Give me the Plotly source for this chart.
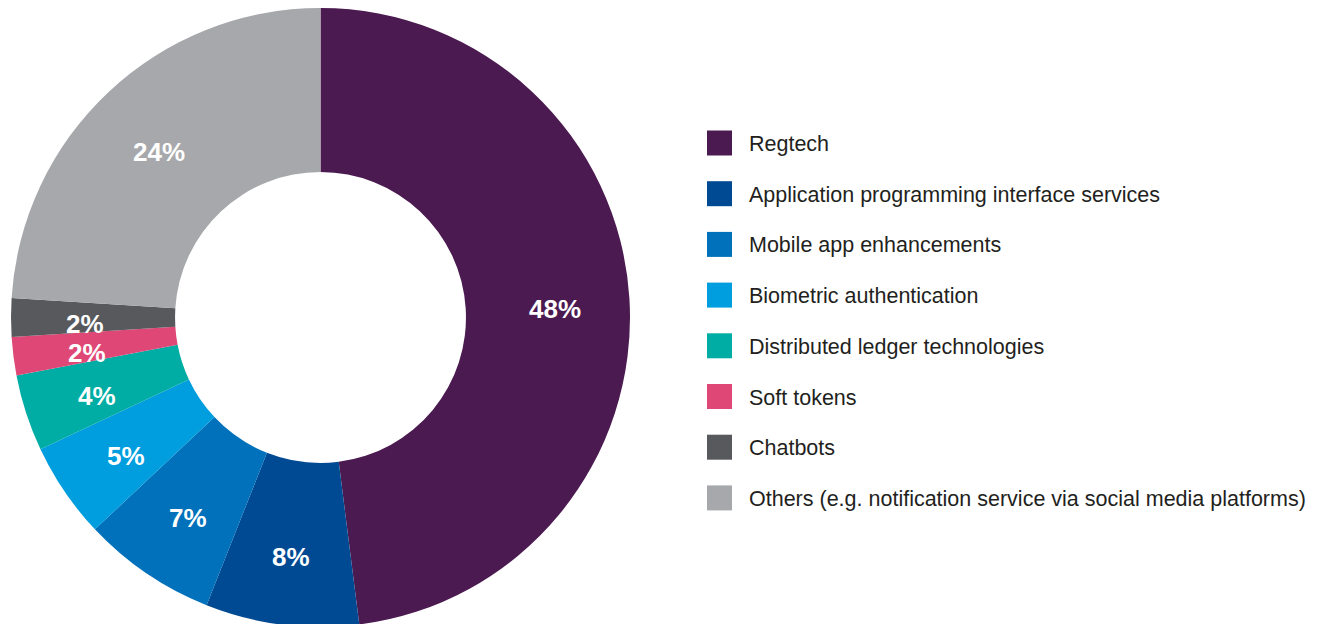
import math
import plotly.graph_objects as go

categories = [
    "Regtech",
    "Application programming interface services",
    "Mobile app enhancements",
    "Biometric authentication",
    "Distributed ledger technologies",
    "Soft tokens",
    "Chatbots",
    "Others (e.g. notification service via social media platforms)",
]
values = [48, 8, 7, 5, 4, 2, 2, 24]
colors = ["#4B1A50", "#004A93", "#0071BA", "#009EDE", "#00ADA4", "#DE4776", "#58595C", "#A7A8AB"]

W, H = 1317, 624
OFF = 8  # page body margin offset

# pie box in figure pixels
px0, px1 = 3, 622
py0, py1 = 0, 619
cx, cy = (px0 + px1) / 2, (py0 + py1) / 2
R = min(px1 - px0, py1 - py0) / 2

fig = go.Figure()
fig.add_trace(go.Pie(
    labels=categories,
    values=values,
    marker=dict(colors=colors, line=dict(color="white", width=0)),
    hole=0.47,
    sort=False,
    direction="clockwise",
    rotation=0,
    textinfo="none",
    showlegend=False,
    domain=dict(x=[px0 / W, px1 / W], y=[1 - py1 / H, 1 - py0 / H]),
    hoverinfo="label+percent",
))

shapes, annotations = [], []

# percentage labels at slice mid-angles
total = sum(values)
cum = 0
r_lab = 0.76 * R
for v in values:
    mid = (cum + v / 2) / total * 2 * math.pi
    cum += v
    x = cx + r_lab * math.sin(mid)
    y = cy - r_lab * math.cos(mid) + 6
    annotations.append(dict(xref="paper", yref="paper", x=x / W, y=1 - y / H,
                            xanchor="center", yanchor="middle", showarrow=False,
                            text=f"<b>{v}%</b>",
                            font=dict(family="Liberation Sans, Arial, sans-serif", size=26, color="white")))

# Legend drawn as squares + labels
lx0, lx1 = 707 - OFF, 732 - OFF
tx = 747 - OFF
first_c, step, half = 143 - OFF, 50.7, 12.5
for i, (cat, col) in enumerate(zip(categories, colors)):
    c = first_c + i * step
    shapes.append(dict(type="rect", xref="paper", yref="paper",
                       x0=lx0 / W, x1=lx1 / W, y0=1 - (c + half) / H, y1=1 - (c - half) / H,
                       fillcolor=col, line=dict(width=0)))
    annotations.append(dict(xref="paper", yref="paper", x=tx / W, y=1 - (c + 1) / H,
                            xanchor="left", yanchor="middle", showarrow=False,
                            text=cat, font=dict(family="Liberation Sans, Arial, sans-serif",
                                                size=21.5, color="#231F20")))

fig.update_layout(
    width=W, height=H,
    margin=dict(l=0, r=0, t=0, b=0),
    paper_bgcolor="white", plot_bgcolor="white",
    shapes=shapes, annotations=annotations,
)

fig.write_html("out.html")
